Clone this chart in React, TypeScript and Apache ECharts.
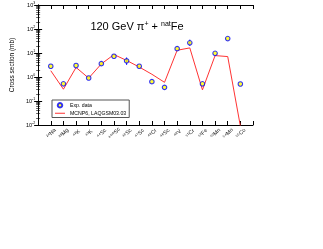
import React, { useEffect, useRef } from "react";
import * as echarts from "echarts";

const isotopes = ["²⁴Na", "²⁸Mg", "⁴²K", "⁴³K", "⁴⁴Sc", "⁴⁴ᵐSc", "⁴⁶Sc", "⁴⁷Sc", "⁴⁸Cr", "⁴⁸Sc", "⁴⁸V", "⁵¹Cr", "⁵²Fe", "⁵²Mn", "⁵⁴Mn", "⁵⁶Co"];
const expData = [2.8, 0.52, 3.0, 0.91, 3.6, 7.3, 4.7, 2.8, 0.64, 0.37, 15.2, 26.5, 0.52, 9.7, 40, 0.51];
const modelData = [1.83, 0.31, 2.5, 0.9, 3.5, 8.6, 4.9, 2.6, 1.3, 0.6, 13, 16.3, 0.29, 7.8, 7.1, 0.009];
const errIdx = [7, 12];
const errLow = [3.2, 20];
const errHigh = [6.5, 36];
const yTicks = ["10{s|-2}", "10{s|-1}", "10{s|0}", "10{s|1}", "10{s|2}", "10{s|3}"];

export default function App() {
  const ref = useRef<HTMLDivElement>(null);
  useEffect(() => {
    const chart = echarts.init(ref.current!, null, { renderer: "svg" });
    const font = "Liberation Sans, Arial, sans-serif";
    const xBase = {
      type: "value",
      min: 0,
      max: 17,
      interval: 1,
      splitLine: { show: false },
      axisLine: { lineStyle: { color: "#000", width: 1 } },
      axisTick: { inside: true, length: 4, lineStyle: { color: "#000" } },
    };
    const yBase = {
      type: "log",
      logBase: 10,
      min: 0.01,
      max: 1000,
      splitLine: { show: false },
      axisLine: { show: true, lineStyle: { color: "#000", width: 1 } },
      axisTick: { inside: true, length: 4, lineStyle: { color: "#000" } },
      minorTick: { show: true, splitNumber: 9, length: 2, lineStyle: { color: "#000", width: 0.6 } },
    };
    chart.setOption({
      animation: false,
      grid: { left: 22, right: 70, top: 5, bottom: 124, containLabel: false },
      xAxis: [
        {
          ...xBase,
          position: "bottom",
          axisLabel: {
            formatter: (v: number) => isotopes[v - 1] || "",
            rotate: 45,
            align: "center",
            verticalAlign: "middle",
            margin: 8,
            fontSize: 5.5,
            color: "#222",
            fontFamily: font,
          },
        },
        { ...xBase, position: "top", axisLabel: { show: false } },
      ],
      yAxis: [
        {
          ...yBase,
          position: "left",
          name: "Cross section (mb)",
          nameLocation: "middle",
          nameGap: 15,
          nameTextStyle: { fontSize: 6.5, fontFamily: font, color: "#000" },
          axisLabel: {
            margin: 3,
            color: "#000",
            fontFamily: font,
            fontSize: 5.5,
            formatter: (v: number) => {
              const e = Math.round(Math.log10(v));
              return yTicks[e + 2] || "";
            },
            rich: { s: { fontSize: 3.5, verticalAlign: "top", padding: [0, 0, 4, 0], fontFamily: font, color: "#000" } },
          },
        },
        { ...yBase, position: "right", axisLabel: { show: false } },
      ],
      legend: {
        left: 52,
        top: 100,
        orient: "vertical",
        borderColor: "#555",
        borderWidth: 1,
        padding: [2, 3],
        itemGap: 2,
        itemWidth: 10,
        itemHeight: 4.5,
        textStyle: { fontSize: 5.2, fontFamily: font, color: "#000" },
        data: [
          { name: "Exp. data", icon: "circle" },
          {
            name: "MCNP6, LAQGSM03.03",
            icon: "path://M0,0L0.01,0L0.01,0.01Z M0,2L10,2L10,3L0,3Z M10,4.5L9.99,4.5L9.99,4.49Z",
          },
        ],
      },
      graphic: [
        {
          type: "text",
          x: 137,
          y: 26,
          style: {
            text: "120 GeV π{s|+} + {s|nat}Fe",
            textAlign: "center",
            textVerticalAlign: "middle",
            fontSize: 11,
            fontFamily: font,
            fill: "#000",
            rich: { s: { fontSize: 7, verticalAlign: "top", padding: [0, 0, 6, 0], fontFamily: font, fill: "#000" } },
          },
        },
      ],
      series: [
        {
          name: "MCNP6, LAQGSM03.03",
          type: "line",
          data: modelData.map((v, i) => [i + 1, v]),
          symbol: "none",
          lineStyle: { color: "#ff3333", width: 1 },
          itemStyle: { color: "#ff3333" },
          clip: true,
          z: 2,
        },
        {
          name: "errbars",
          type: "custom",
          data: errIdx.map((x, i) => [x, errLow[i], errHigh[i]]),
          encode: { x: 0, y: [1, 2] },
          renderItem: (params: any, api: any) => {
            const x = api.value(0);
            const lo = api.coord([x, api.value(1)]);
            const hi = api.coord([x, api.value(2)]);
            return {
              type: "line",
              shape: { x1: lo[0], y1: lo[1], x2: hi[0], y2: hi[1] },
              style: { stroke: "#0000ff", lineWidth: 1 },
            };
          },
          z: 3,
        },
        {
          name: "Exp. data",
          type: "scatter",
          data: expData.map((v, i) => [i + 1, v]),
          symbol: "circle",
          symbolSize: 4.5,
          itemStyle: { color: "#ffff00", borderColor: "#0000ff", borderWidth: 1.1 },
          z: 4,
        },
      ],
    });
    return () => chart.dispose();
  }, []);
  return <div ref={ref} style={{ position: "fixed", left: 0, top: 0, width: 323, height: 249 }} />;
}
